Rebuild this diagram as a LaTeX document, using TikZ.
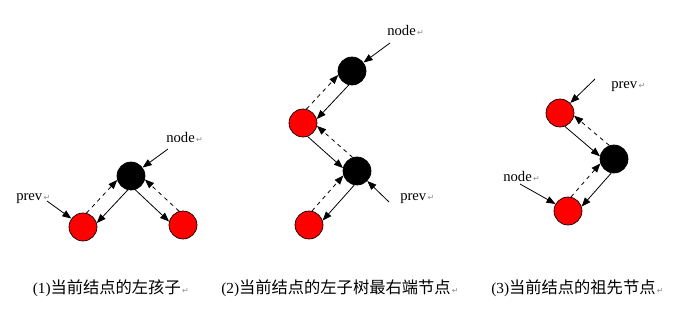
\documentclass[tikz,border=0pt]{standalone}
\usepackage{fontspec}
\usepackage{xcolor}
\usepackage{tikz}
\usetikzlibrary{arrows.meta,calc}
\setmainfont{Liberation Serif}
\newfontfamily\cjk{Noto Sans CJK SC}
\newfontfamily\symfont{DejaVu Sans}
\definecolor{ballred}{HTML}{FF0000}
\definecolor{markgray}{HTML}{8C8C8C}

% paragraph mark as printed after each text
\newcommand{\pmark}{{\symfont\fontsize{6pt}{6pt}\selectfont\color{markgray}\,↵}}

% solid arrow a -> b and dashed arrow b -> a, side by side
\newcommand{\linkpair}[3]{%
  \draw[arrow] let \p1=($(#2)-(#1)$), \n1={atan2(\y1,\x1)+#3},
    \n2={atan2(\y1,\x1)+180-#3} in (#1.\n1) -- (#2.\n2);
  \draw[arrow,dashed] let \p1=($(#1)-(#2)$), \n1={atan2(\y1,\x1)+#3},
    \n2={atan2(\y1,\x1)+180-#3} in (#2.\n1) -- (#1.\n2);
}

\begin{document}
\begin{tikzpicture}[
    x=0.75pt, y=-0.75pt,
    ball/.style={circle, draw=black, line width=0.5pt, minimum size=21pt,
      inner sep=0pt},
    redball/.style={ball, fill=ballred},
    blackball/.style={ball, fill=black},
    arrow/.style={-{Triangle[length=6.8pt,width=5.2pt]}, line width=0.6pt,
      dash pattern=on 3pt off 2.2pt},
    arrow/.append style={solid},
    tag/.style={anchor=base west, inner sep=0pt,
      font=\fontsize{11pt}{13pt}\selectfont},
    captiontext/.style={anchor=base west, inner sep=0pt,
      font=\fontsize{11.5pt}{13pt}\selectfont}
  ]
    \useasboundingbox (0,0) rectangle (683,321);

    % (1) left child
    \node[blackball] (b1) at (131,176) {};
    \node[redball] (l1) at (83,227) {};
    \node[redball] (r1) at (183,225) {};
    \linkpair{b1}{l1}{30}
    \linkpair{b1}{r1}{-30}
    \node[tag] (node1) at (166,143) {node\pmark};
    \node[tag] (prev1) at (16,200) {prev\pmark};
    \coordinate (node1tail) at (168,149);
    \coordinate (prev1tail) at (47,201);
    \draw[arrow] (node1tail) -- (b1);
    \draw[arrow] (prev1tail) -- (l1);

    % (2) rightmost node of left subtree
    \node[blackball] (t2) at (352,71) {};
    \node[redball] (u2) at (303,123) {};
    \node[blackball] (k2) at (357,171) {};
    \node[redball] (d2) at (309,225) {};
    \linkpair{t2}{u2}{30}
    \linkpair{u2}{k2}{-30}
    \linkpair{k2}{d2}{30}
    \node[tag] (node2) at (387,36) {node\pmark};
    \node[tag] (prev2) at (400,200) {prev\pmark};
    \coordinate (node2tail) at (390,43);
    \coordinate (prev2tail) at (389,202);
    \draw[arrow] (node2tail) -- (t2);
    \draw[arrow] (prev2tail) -- (k2);

    % (3) ancestor
    \node[redball] (a3) at (560,113) {};
    \node[blackball] (c3) at (614,159) {};
    \node[redball] (e3) at (568,211) {};
    \linkpair{a3}{c3}{-30}
    \linkpair{c3}{e3}{30}
    \node[tag] (prev3) at (611,89) {prev\pmark};
    \node[tag] (node3) at (503,182) {node\pmark};
    \coordinate (prev3tail) at (595,79);
    \coordinate (node3tail) at (520,184);
    \draw[arrow] (prev3tail) -- (a3);
    \draw[arrow] (node3tail) -- (e3);

    \node[captiontext] (cap1) at (32.5,293)
      {(1){\cjk\fontsize{12.2pt}{15pt}\selectfont 当前结点的左孩子}\pmark};
    \node[captiontext] (cap2) at (221,293)
      {(2){\cjk\fontsize{12.2pt}{15pt}\selectfont 当前结点的左子树最右端节点}\pmark};
    \node[captiontext] (cap3) at (491,293)
      {(3){\cjk\fontsize{12.2pt}{15pt}\selectfont 当前结点的祖先节点}\pmark};
  \end{tikzpicture}
\end{document}
